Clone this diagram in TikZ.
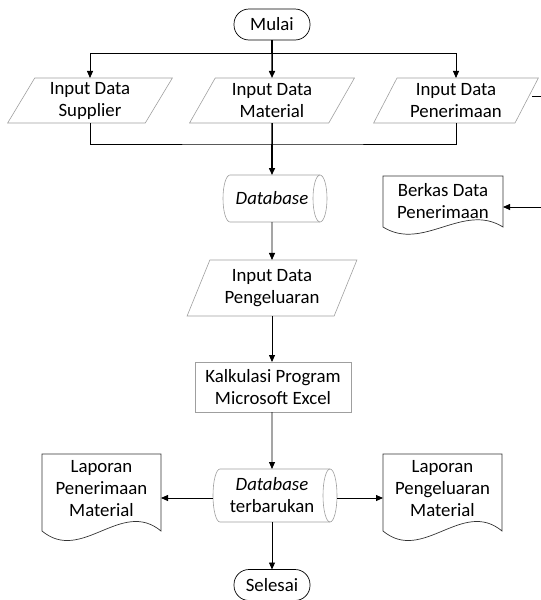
\documentclass[tikz,border=0pt]{standalone}
\usepackage{fontspec}
\setmainfont{Carlito}
\usetikzlibrary{shapes.geometric,shapes.misc,arrows.meta}
\begin{document}
\begin{tikzpicture}[x=1pt,y=-1pt,
  every node/.style={font=\fontsize{18.8}{22}\selectfont, align=center, inner sep=0pt, outer sep=0pt},
  term/.style={draw=black, line width=0.7pt, rounded corners=15pt, minimum width=76pt, minimum height=31pt},
  inbox/.style={draw=gray!75, line width=0.6pt, trapezium, trapezium stretches=true, trapezium left angle=62, trapezium right angle=118, minimum width=165pt, minimum height=45pt},
  cylline/.style={draw=gray!75, line width=0.6pt},
  procbox/.style={draw=gray!75, line width=0.6pt, minimum width=156pt, minimum height=50pt},
  docline/.style={draw=black!80, line width=0.7pt},
  conn/.style={draw=black, line width=0.8pt},
  arr/.style={conn, -{Triangle[length=7pt,width=6pt]}},
  thickc/.style={line width=1.5pt}
]
\useasboundingbox (0,0) rectangle (541,600);

\newcommand{\docshape}[5]{\draw[docline] (#1,#2) -- (#1,#4) .. controls ({#1+(#3-#1)/3},{#4+#5}) and ({#1+2*(#3-#1)/3},{#4-#5}) .. (#3,#4) -- (#3,#2) -- cycle;}
\newcommand{\cylshape}[5]{%
  \draw[cylline] ({#3-#5},#2) -- ({#1+#5},#2) arc[start angle=-90, end angle=-270, x radius=#5, y radius={(#4-#2)/2}] -- ({#3-#5},#4);
  \draw[cylline] ({#3-#5},{(#2+#4)/2}) ellipse [x radius=#5, y radius={(#4-#2)/2}];}

% terminals
\node[term] (mulai) at (272,24.5) {Mulai};
\node[term] (selesai) at (272,585) {Selesai};

% inputs
\node[inbox] (p1) at (90,100.5) {Input Data\\Supplier};
\node[inbox] (p2) at (272,100.5) {Input Data\\Material};
\node[inbox] (p3) at (456,100.5) {Input Data\\Penerimaan};

% database
\cylshape{223}{175}{327}{222}{7}
\node[minimum width=104pt, minimum height=47pt] (db) at (272,198.5) {\textit{Database}};

% berkas document
\docshape{383}{176}{503}{227}{25}
\node[minimum width=120pt, minimum height=51pt] (berkas) at (443,201.5) {Berkas Data\\Penerimaan};

% pengeluaran
\node[inbox, trapezium left angle=65, trapezium right angle=115, minimum width=170pt, minimum height=56pt] (pk) at (272,288) {Input Data\\Pengeluaran};

% kalkulasi
\node[procbox] (kalk) at (273,387) {Kalkulasi Program\\Microsoft Excel};

% database terbarukan
\cylshape{213}{469}{337}{522}{7}
\node[minimum width=124pt, minimum height=53pt] (db2) at (272,495.5) {\textit{Database}\\terbarukan};

% laporan documents
\docshape{42}{454}{161}{531}{33}
\node[minimum width=119pt, minimum height=77pt] (lp) at (101.5,489) {Laporan\\Penerimaan\\Material};
\docshape{383}{454}{502}{531}{33}
\node[minimum width=119pt, minimum height=77pt] (lk) at (442.5,489) {Laporan\\Pengeluaran\\Material};

% coordinates
\coordinate (split) at (272,53);
\coordinate (merge) at (272,144);
\coordinate (p3r) at (532,96);
\coordinate (outA) at (560,96);
\coordinate (outB) at (560,207);
\coordinate (dbL) at (213,498);
\coordinate (dbR) at (337,498);

% connectors
\draw[conn, thickc] (mulai.south) -- (split);
\draw[arr] (split) -| (p1.north);
\draw[arr] (split) -| (p3.north);
\draw[arr, thickc] (split) -- (p2.north);
\draw[conn] (p1.south) |- (merge) -| (p3.south);
\draw[conn, thickc] (p2.south) -- (merge);
\draw[arr, thickc] (merge) -- (db.north);
\draw[arr] (p3r) -- (outA) -- (outB) -- (outB -| berkas.east);
\draw[arr] (db.south) -- (pk.north);
\draw[arr] (pk.south) -- (kalk.north -| pk.south);
\draw[arr] (kalk.south -| pk.south) -- (db2.north);
\draw[arr] (dbL) -- (dbL -| lp.east);
\draw[arr] (dbR) -- (dbR -| lk.west);
\draw[arr] (db2.south) -- (selesai.north);
\end{tikzpicture}
\end{document}
